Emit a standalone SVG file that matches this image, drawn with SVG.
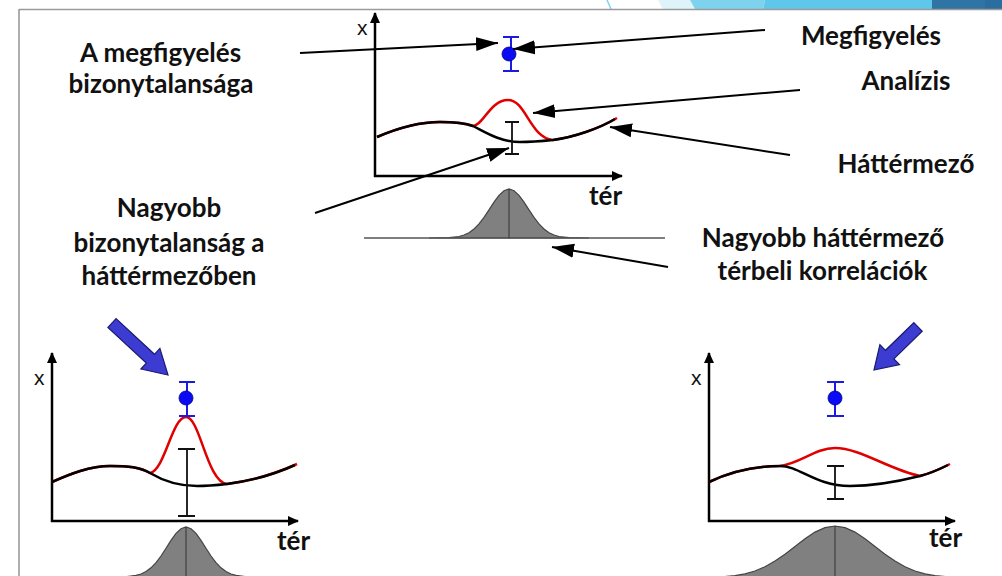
<svg xmlns="http://www.w3.org/2000/svg" width="1002" height="576" viewBox="0 0 1002 576">
<style>
.lbl{font-family:Lato,"Open Sans","Liberation Sans",sans-serif;font-weight:bold;font-size:26px;fill:#111;}
.ax{font-family:"Liberation Sans",Arial,sans-serif;font-size:21px;fill:#111;}
.axis{stroke:#000;stroke-width:2.5;fill:none;marker-end:url(#axh);}
.bg{stroke:#000;stroke-width:2.5;fill:none;}
.an{stroke:#e00000;stroke-width:2.5;fill:none;}
.eb{stroke:#111;stroke-width:1.8;fill:none;}
.ob{stroke:#1a1ae0;stroke-width:2;fill:none;}
.dot{fill:#0a0af5;stroke:#00008a;stroke-width:0.8;}
.gau{fill:#808080;stroke:#444;stroke-width:1.2;}
.gc{stroke:#333;stroke-width:1;}
.con{stroke:#000;stroke-width:2;fill:none;marker-end:url(#ah);}
.blue{fill:#3c3cd2;stroke:#1a1a70;stroke-width:1.2;}
</style>
<defs>
<marker id="ah" markerUnits="userSpaceOnUse" markerWidth="24" markerHeight="16" refX="22" refY="8" orient="auto">
<path d="M0,1 L22,8 L0,15 z" fill="#000"/>
</marker>
<marker id="axh" markerUnits="userSpaceOnUse" markerWidth="12" markerHeight="10" refX="10" refY="5" orient="auto">
<path d="M0,0 L11,5 L0,10 z" fill="#000"/>
</marker>
</defs>
<rect width="1002" height="576" fill="#fff"/>
<g id="header">
<polygon points="658,0 690,0 695,9 663,9" fill="#dff3fa"/>
<polygon points="690,0 765,0 763,9 695,9" fill="#7dd3ee"/>
<polygon points="765,0 932,0 932,9 763,9" fill="#5fc8ea"/>
<polygon points="932,0 985,0 985,9 932,9" fill="#2e75a6"/>
<rect x="985" y="0" width="17" height="9" fill="#2a6d9e"/>
<line x1="607" y1="0" x2="611" y2="9" stroke="#7dd3ee" stroke-width="1.5"/>
<line x1="19" y1="9.5" x2="1002" y2="9.5" stroke="#9a9a9a" stroke-width="1.6"/>
<line x1="19" y1="9" x2="19" y2="576" stroke="#9a9a9a" stroke-width="1.6"/>
</g>
<g id="plot-top">
<path class="gau" d="M429,238 L439,237.95 L449,237.7 L459,236.5 L464,235 L469,232.7 L474,229 L479,223.9 L484,217.4 L489,209.8 L494,202.1 L499,195.3 L504,190.7 L509,189 L514,190.7 L519,195.3 L524,202.1 L529,209.8 L534,217.4 L539,223.9 L544,229 L549,232.7 L554,235 L559,236.5 L569,237.7 L579,237.95 L589,238 Z"/>
<line x1="364" y1="238" x2="665" y2="238" stroke="#555" stroke-width="1.3"/>
<line class="gc" x1="509" y1="189" x2="509" y2="238"/>
<line class="axis" x1="375" y1="177" x2="375" y2="13"/>
<line class="axis" x1="374" y1="176" x2="622" y2="176"/>
<text class="ax" x="357" y="35">x</text>
<path class="an" d="M377,137 C398,128 420,122 440,122 C455,122 465,123 473,126 C483,126 490,100 508,100 C526,100 530,138 553,140 C575,137 600,128 617,118"/>
<path class="bg" d="M377,137 C398,128 420,122 440,122 C455,122 465,123 473,126 C485,132 500,142 520,142 C533,142 543,141 553,140 C575,137 600,128 615,119"/>
<path class="eb" d="M512,122 V154 M505,122 H519 M505,154 H519"/>
<path class="ob" d="M511,37 V71 M503,37 H519 M503,71 H519"/>
<circle class="dot" cx="509" cy="54" r="7"/>
<text class="lbl" x="589" y="205">tér</text>
</g>
<g id="plot-left">
<path class="gau" d="M116,577 L126,576.7 L136,575.4 L141,574 L146,571.5 L151,567.8 L156,562.6 L161,556 L166,548.2 L171,540.4 L176,533.4 L181,528.7 L186,527 L191,528.7 L196,533.4 L201,540.4 L206,548.2 L211,556 L216,562.6 L221,567.8 L226,571.5 L231,574 L236,575.4 L246,576.7 L256,577 Z"/>
<line x1="40" y1="577" x2="280" y2="577" stroke="#555" stroke-width="1.3"/>
<line class="gc" x1="186" y1="527" x2="186" y2="577"/>
<line class="axis" x1="52" y1="522" x2="52" y2="353"/>
<line class="axis" x1="51" y1="521" x2="298" y2="521"/>
<text class="ax" x="34" y="385">x</text>
<path class="an" d="M52,482 C70,474 90,466 110,466 C128,466 140,467 150,473 C165,470 172,417 186,417 C200,417 207,482 227,484 C250,481 275,474 297,464"/>
<path class="bg" d="M52,482 C70,474 90,466 110,466 C128,466 140,467 150,473 C165,482 180,486 197,486 C208,486 218,485 227,484 C250,481 273,475 295,465"/>
<path class="eb" d="M187,449 V516 M178,449 H195 M178,516 H195"/>
<path class="ob" d="M187,382 V416 M179,382 H195 M179,416 H195"/>
<circle class="dot" cx="186" cy="398" r="7"/>
<text class="lbl" x="277" y="550">tér</text>
</g>
<g id="plot-right">
<path class="gau" d="M685,578 L715,577.4 L735,575.7 L745,573.9 L755,571 L765,566.8 L775,561.1 L785,554.2 L795,546.5 L805,538.7 L815,532.1 L825,527.6 L835,526 L845,527.6 L855,532.1 L865,538.7 L875,546.5 L885,554.2 L895,561.1 L905,566.8 L915,571 L925,573.9 L935,575.7 L955,577.4 L985,578 Z"/>
<line class="gc" x1="835" y1="526" x2="835" y2="578"/>
<line class="axis" x1="709" y1="522" x2="709" y2="353"/>
<line class="axis" x1="708" y1="521" x2="955" y2="521"/>
<text class="ax" x="691" y="385">x</text>
<path class="an" d="M709,482 C730,472 755,466 780,466 C800,464 815,448 835,448 C860,448 890,470 920,476 C932,473 942,468 950,464"/>
<path class="bg" d="M709,482 C730,472 755,466 780,466 C800,466 815,486 850,486 C875,486 900,481 920,476 C932,473 940,469 948,465"/>
<path class="eb" d="M835,466 V499 M827,466 H844 M827,499 H844"/>
<path class="ob" d="M835,382 V416 M827,382 H844 M827,416 H844"/>
<circle class="dot" cx="835" cy="398" r="7"/>
<text class="lbl" x="929" y="547">tér</text>
</g>
<g id="label-obs-unc"><text class="lbl" text-anchor="middle"><tspan x="160.5" y="62">A megfigyelés</tspan><tspan x="161" y="93">bizonytalansága</tspan></text></g>
<g id="label-bg-unc"><text class="lbl" text-anchor="middle"><tspan x="169" y="217">Nagyobb</tspan><tspan x="169" y="252">bizonytalanság a</tspan><tspan x="169" y="285">háttérmezőben</tspan></text></g>
<g id="label-obs"><text class="lbl" text-anchor="middle" x="871" y="45">Megfigyelés</text></g>
<g id="label-analysis"><text class="lbl" text-anchor="middle" x="906" y="90">Analízis</text></g>
<g id="label-bg"><text class="lbl" text-anchor="middle" x="906" y="173">Háttérmező</text></g>
<g id="label-corr"><text class="lbl" text-anchor="middle"><tspan x="823" y="247">Nagyobb háttérmező</tspan><tspan x="822.5" y="280">térbeli korrelációk</tspan></text></g>
<g id="connectors">
<line class="con" x1="300" y1="53" x2="498" y2="43"/>
<line class="con" x1="765" y1="30" x2="513" y2="49"/>
<line class="con" x1="800" y1="90" x2="533" y2="113"/>
<line class="con" x1="790" y1="155" x2="610" y2="127"/>
<line class="con" x1="315" y1="213" x2="509" y2="148"/>
<line class="con" x1="668" y1="267" x2="552" y2="247"/>
<polygon class="blue" points="116.1,318.6 154.5,354.3 159.9,348.4 168,375 140.9,369.0 146.3,363.1 107.9,327.4"/>
<polygon class="blue" points="913.8,322.7 885.5,350.3 879.9,344.6 874,370 899.5,364.6 893.9,358.9 922.2,331.3"/>
</g>
</svg>
